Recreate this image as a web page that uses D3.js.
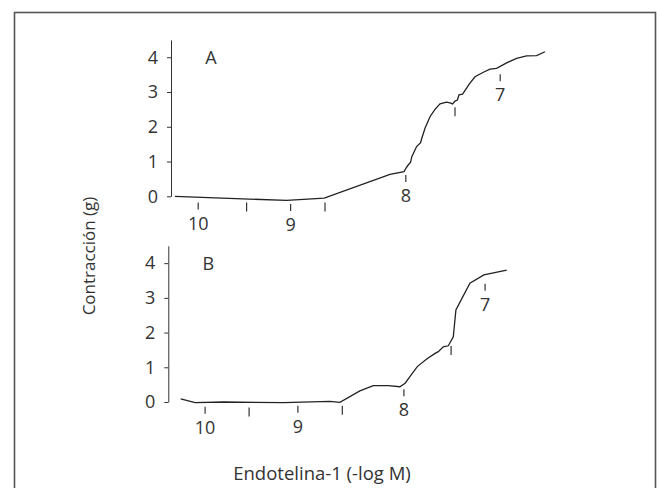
<!DOCTYPE html>
<html>
<head>
<meta charset="utf-8">
<script src="https://cdn.jsdelivr.net/npm/d3@7"></script>
<style>
  body { margin: 0; background: #fff; }
  text { font-family: "Open Sans", "Noto Sans", sans-serif; fill: #333; }
</style>
</head>
<body>
<div id="chart"></div>
<script>
// tracing A: time (arbitrary units) and contraction (g)
var timeA = [1, 28.9, 38.3, 54.75, 58.25, 58.75, 59.3, 59.9, 60.2, 61.0, 61.4, 62.4, 62.7, 63.5, 64.75, 66.0, 67.25, 68.9, 69.75, 70.4, 71.0, 71.6, 72.0, 72.9, 73.9, 74.5, 76.0, 78.1, 79.75, 81.4, 83.9, 86.4, 88.9, 91.4, 93.5];
var forceA = [0, -0.12, -0.05, 0.63, 0.71, 0.81, 0.90, 0.98, 1.14, 1.33, 1.43, 1.54, 1.67, 1.96, 2.29, 2.50, 2.66, 2.71, 2.69, 2.66, 2.74, 2.77, 2.92, 2.94, 3.11, 3.22, 3.44, 3.57, 3.66, 3.68, 3.84, 3.97, 4.04, 4.05, 4.16];

// tracing B
var timeB = [3.1, 6.7, 13.8, 28.8, 40.4, 42.9, 47.9, 51.25, 55.0, 57.9, 59.2, 60.4, 62.25, 64.6, 66.7, 67.5, 68.75, 70.0, 71.25, 71.9, 75.4, 78.9, 84.6];
var forceB = [0.09, -0.02, 0, -0.02, 0.02, -0.01, 0.32, 0.47, 0.47, 0.44, 0.54, 0.73, 1.02, 1.24, 1.40, 1.45, 1.59, 1.62, 1.88, 2.65, 3.42, 3.66, 3.80];

// dose additions: time, level of the mark, -log M label
var doseTimeA = [6.8, 18.9, 29.9, 38.5, 58.7, 71.0, 82.3];
var doseLevelA = [-0.18, -0.18, -0.22, -0.18, 0.61, 2.56, 3.51];
var doseTimeB = [9.2, 20.2, 32.4, 43.5, 58.9, 70.7, 79.2];
var doseLevelB = [-0.14, -0.16, -0.11, -0.11, 0.37, 1.61, 3.41];
var doseLabels = ["10", "", "9", "", "8", "", "7"];

var yTicks = [0, 1, 2, 3, 4];

var width = 657, height = 488;

var svg = d3.select("#chart").append("svg")
    .attr("width", width)
    .attr("height", height);

// frame
svg.append("rect")
    .attr("x", 14.5)
    .attr("y", 12.5)
    .attr("width", 641)
    .attr("height", 520)
    .attr("fill", "none")
    .attr("stroke", "#555")
    .attr("stroke-width", 1.6);

var x = d3.scaleLinear().domain([0, 100]).range([0, 400]);

function drawPanel(name, left, top, bottom, times, forces, doseTimes, doseLevels) {
  var y = d3.scaleLinear().domain([0, 4.5]).range([bottom, top]);
  var g = svg.append("g").attr("transform", "translate(" + left + ",0)");

  var axis = g.append("g")
      .call(d3.axisLeft(y).tickValues(yTicks).tickFormat(d3.format("d"))
        .tickSize(4).tickSizeOuter(0).tickPadding(9));
  axis.select(".domain").attr("stroke", "#333");
  axis.selectAll(".tick line").attr("stroke", "#333");
  axis.selectAll(".tick text")
      .style("font-family", "Open Sans")
      .style("font-size", "18px")
      .attr("fill", "#333");

  var pts = times.map(function(t, i) { return [t, forces[i]]; });
  var line = d3.line()
      .x(function(d) { return x(d[0]); })
      .y(function(d) { return y(d[1]); });

  g.append("path")
      .datum(pts)
      .attr("d", line)
      .attr("fill", "none")
      .attr("stroke", "#222")
      .attr("stroke-width", 1.3);

  var doses = doseTimes.map(function(t, i) {
    return {t: t, v: doseLevels[i], label: doseLabels[i]};
  });

  g.selectAll(".dose")
      .data(doses)
      .enter().append("line")
      .attr("x1", function(d) { return x(d.t); })
      .attr("x2", function(d) { return x(d.t); })
      .attr("y1", function(d) { return y(d.v); })
      .attr("y2", function(d) { return y(d.v) + (d.label ? 7 : 9); })
      .attr("stroke", "#333")
      .attr("stroke-width", 1.2);

  g.selectAll(".doselabel")
      .data(doses.filter(function(d) { return d.label; }))
      .enter().append("text")
      .attr("x", function(d) { return x(d.t); })
      .attr("y", function(d) { return y(d.v) + 27; })
      .attr("text-anchor", "middle")
      .style("font-size", "18px")
      .text(function(d) { return d.label; });

  g.append("text")
      .attr("x", 40)
      .attr("y", y(3.8))
      .attr("text-anchor", "middle")
      .style("font-size", "18px")
      .text(name);
}

drawPanel("A", 171, 39.9, 196.3, timeA, forceA, doseTimeA, doseLevelA);
drawPanel("B", 168.3, 245.8, 402, timeB, forceB, doseTimeB, doseLevelB);

// axis titles
svg.append("text")
    .attr("transform", "translate(95,256) rotate(-90)")
    .attr("text-anchor", "middle")
    .style("font-size", "17px")
    .text("Contracción (g)");

svg.append("text")
    .attr("x", 322)
    .attr("y", 480)
    .attr("text-anchor", "middle")
    .style("font-size", "18.5px")
    .text("Endotelina-1 (-log M)");
</script>
</body>
</html>
